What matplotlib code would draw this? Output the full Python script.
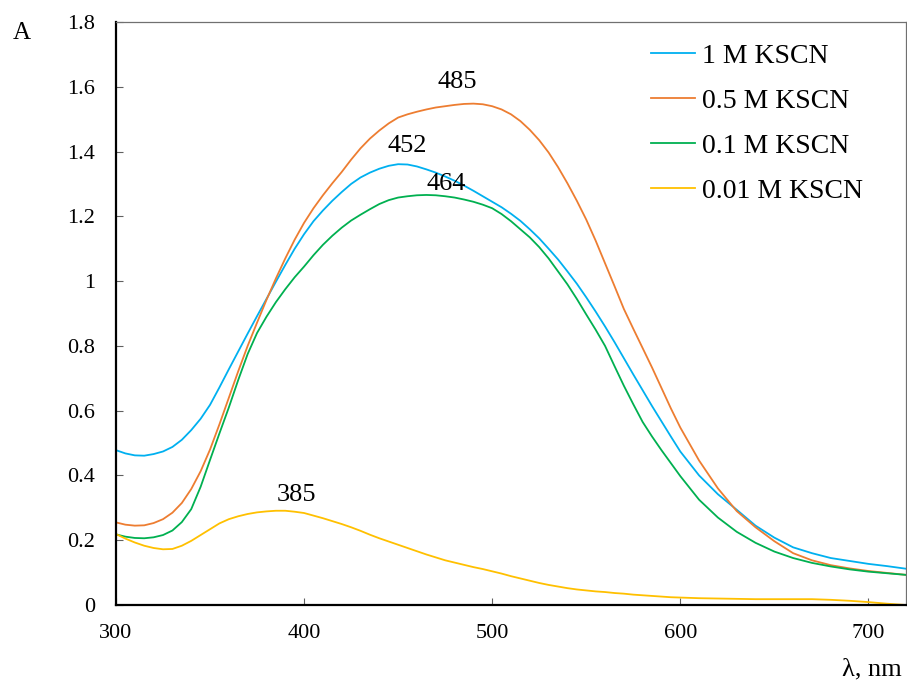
import matplotlib
matplotlib.use("Agg")
import matplotlib.pyplot as plt

# absorption spectra, KSCN series
# 5 nm step up to 600 nm, 10 nm step after
wavelength = list(range(300, 601, 5)) + list(range(610, 721, 10))

a_1M = [0.478, 0.468, 0.462, 0.461, 0.466, 0.474, 0.488, 0.510, 0.540, 0.575,   # 300-345
        0.618, 0.672, 0.728, 0.783, 0.838, 0.892, 0.945, 0.998, 1.050, 1.100,   # 350-395
        1.145, 1.185, 1.218, 1.248, 1.275, 1.300, 1.320, 1.335, 1.347, 1.356,   # 400-445
        1.361, 1.360, 1.354, 1.345, 1.335, 1.323, 1.310, 1.295, 1.279, 1.262,   # 450-495
        1.245, 1.228, 1.208, 1.186, 1.160, 1.132, 1.100, 1.067, 1.030, 0.992,   # 500-545
        0.950, 0.906, 0.860, 0.812, 0.762, 0.712, 0.663, 0.614, 0.567, 0.520,   # 550-595
        0.474,                                                                  # 600
        0.400, 0.342, 0.294, 0.245, 0.208, 0.178, 0.160, 0.145, 0.136, 0.127,   # 610-700
        0.120, 0.112]

a_05M = [0.255, 0.248, 0.245, 0.246, 0.253, 0.265, 0.285, 0.315, 0.358, 0.413,
         0.480, 0.558, 0.640, 0.722, 0.800, 0.872, 0.942, 1.008, 1.070, 1.128,
         1.180, 1.225, 1.265, 1.302, 1.337, 1.375, 1.410, 1.440, 1.465, 1.487,
         1.505, 1.515, 1.523, 1.530, 1.536, 1.540, 1.544, 1.547, 1.548, 1.546,
         1.540, 1.530, 1.515, 1.494, 1.467, 1.435, 1.397, 1.352, 1.302, 1.248,
         1.190, 1.125, 1.055, 0.985, 0.914, 0.853, 0.793, 0.733, 0.670, 0.607,
         0.548,
         0.446, 0.360, 0.290, 0.240, 0.197, 0.160, 0.138, 0.123, 0.113, 0.105,
         0.099, 0.093]

a_01M = [0.218, 0.211, 0.207, 0.206, 0.209, 0.216, 0.230, 0.256, 0.296, 0.365,
         0.448, 0.530, 0.610, 0.695, 0.775, 0.840, 0.890, 0.935, 0.975, 1.012,
         1.045, 1.080, 1.112, 1.140, 1.165, 1.187, 1.205, 1.222, 1.238, 1.250,
         1.258, 1.262, 1.265, 1.266, 1.265, 1.262, 1.258, 1.252, 1.245, 1.236,
         1.225, 1.207, 1.185, 1.160, 1.135, 1.105, 1.070, 1.030, 0.990, 0.945,
         0.897, 0.850, 0.800, 0.738, 0.677, 0.620, 0.565, 0.520, 0.478, 0.438,
         0.398,
         0.325, 0.270, 0.226, 0.192, 0.165, 0.145, 0.130, 0.119, 0.110, 0.103,
         0.098, 0.093]

a_001M = [0.219, 0.205, 0.193, 0.183, 0.176, 0.172, 0.173, 0.183, 0.198, 0.216,
          0.234, 0.252, 0.265, 0.274, 0.281, 0.286, 0.289, 0.291, 0.291, 0.288,
          0.284, 0.276, 0.268, 0.259, 0.250, 0.240, 0.229, 0.217, 0.206, 0.196,
          0.186, 0.176, 0.166, 0.156, 0.147, 0.138, 0.131, 0.124, 0.117, 0.111,
          0.104, 0.097, 0.089, 0.082, 0.075, 0.068, 0.062, 0.057, 0.052, 0.048,
          0.045, 0.042, 0.040, 0.037, 0.035, 0.032, 0.030, 0.028, 0.026, 0.024,
          0.023,
          0.021, 0.020, 0.019, 0.018, 0.018, 0.018, 0.018, 0.016, 0.013, 0.009,
          0.004, 0.000]

labels = ["1 M KSCN", "0.5 M KSCN", "0.1 M KSCN", "0.01 M KSCN"]
colors = ["#00B0F0", "#ED7D31", "#00B050", "#FFC000"]

# peak annotations: (text, x, y) in data coords
peaks = [("485", 481.6, 1.616), ("452", 455.1, 1.417),
         ("464", 475.8, 1.300), ("385", 396.1, 0.340)]

plt.rcParams["font.family"] = ["Liberation Serif", "DejaVu Serif"]

fig = plt.figure(figsize=(9.07, 6.84), dpi=100)
ax = fig.add_axes([116 / 907, 79 / 684, 790 / 907, 583 / 684])

for vals, lab, col in zip([a_1M, a_05M, a_01M, a_001M], labels, colors):
    ax.plot(wavelength, vals, color=col, lw=1.3, label=lab)

for txt, x, y in peaks:
    ax.text(x, y, txt, ha="center", va="center", fontsize=19)

ax.set_xlim(300, 720)
ax.set_ylim(0, 1.8)
ax.set_xticks([300, 400, 500, 600, 700])
ax.set_yticks([0, 0.2, 0.4, 0.6, 0.8, 1, 1.2, 1.4, 1.6, 1.8])
ax.set_yticklabels(["0", "0.2", "0.4", "0.6", "0.8", "1", "1.2", "1.4", "1.6", "1.8"])

ax.tick_params(axis="both", direction="in", length=5, width=0.8, color="#606060",
               labelsize=16, pad=15)
ax.tick_params(axis="x", pad=14)

for side in ["left", "bottom"]:
    ax.spines[side].set_linewidth(1.6)
    ax.spines[side].set_color("black")
for side in ["top", "right"]:
    ax.spines[side].set_linewidth(0.9)
    ax.spines[side].set_color("#707070")

ax.legend(loc="upper left", bbox_to_anchor=(651 / 907, 0.936),
          bbox_transform=fig.transFigure, frameon=False, fontsize=20,
          handlelength=1.6, handletextpad=0.25, labelspacing=0.7,
          borderpad=0, borderaxespad=0)

fig.text(0.0237, 0.952, "A", fontsize=18, ha="center", va="center")
fig.text(902 / 907, 1 - 669 / 684, "λ, nm", fontsize=19, ha="right", va="center")

fig.savefig("out.png", dpi=100)
